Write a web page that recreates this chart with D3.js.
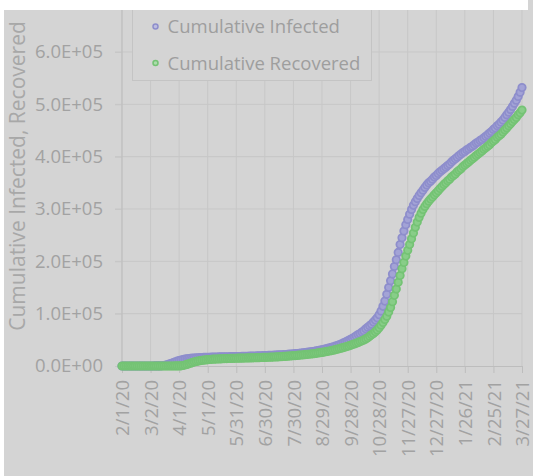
<!DOCTYPE html>
<html>
<head>
<meta charset="utf-8">
<script src="https://cdn.jsdelivr.net/npm/d3@7"></script>
<style>
  html, body { margin: 0; padding: 0; background: #ffffff; }
  svg { display: block; font-family: "Open Sans", sans-serif; }
</style>
</head>
<body>
<svg id="chart" width="533" height="476"></svg>
<script>
// Series names (legend order)
const seriesNames = ["Cumulative Infected", "Cumulative Recovered"];

// Observations every 2 days starting 2/1/20, in thousands of people
const startDate = "2/1/20";
const stepDays = 2;

const infectedK = [
  0, 0, 0, 0, 0, 0, 0, 0, 0, 0,
  0, 0, 0, 0, 0, 0.01, 0.03, 0.05, 0.1, 0.15,
  0.2, 0.5, 1.0, 1.8, 2.8, 4.0, 5.3, 6.7, 8.0, 9.3,
  10.5, 11.5, 12.3, 13.0, 13.6, 14.1, 14.5, 14.9, 15.2, 15.5,
  15.7, 15.9, 16.1, 16.3, 16.4, 16.6, 16.7, 16.8, 17.0, 17.1,
  17.2, 17.3, 17.4, 17.5, 17.6, 17.6, 17.7, 17.8, 17.9, 17.9,
  18.0, 18.1, 18.2, 18.3, 18.4, 18.5, 18.6, 18.7, 18.8, 19.0,
  19.1, 19.2, 19.4, 19.5, 19.7, 19.8, 20.0, 20.2, 20.3, 20.5,
  20.7, 20.9, 21.1, 21.3, 21.5, 21.8, 22.0, 22.3, 22.6, 22.9,
  23.2, 23.5, 23.9, 24.2, 24.6, 25.0, 25.5, 25.9, 26.4, 27.0,
  27.5, 28.1, 28.8, 29.5, 30.2, 31.0, 31.8, 32.7, 33.6, 34.5,
  35.5, 36.7, 37.9, 39.2, 40.6, 42.0, 43.6, 45.3, 47.1, 49.0,
  51, 53, 55, 57.5, 60, 62, 65, 67.5, 71, 74,
  77, 80, 84, 88, 92, 98, 105, 114, 124, 137,
  150, 163, 176, 190, 203, 217, 232, 245, 258, 270,
  280, 290, 299, 307, 314, 320, 326, 331, 336, 341,
  346, 350, 353, 357, 361, 364, 368, 371, 374, 377,
  380, 383, 386, 390, 393, 396, 399, 402, 405, 408,
  410, 413, 415, 418, 420, 423, 426, 428, 431, 433,
  436, 439, 442, 445, 448, 452, 455, 459, 462, 466,
  470, 475, 480, 485, 490, 496, 502, 508, 515, 523,
  532
];

const recoveredK = [
  0, 0, 0, 0, 0, 0, 0, 0, 0, 0,
  0, 0, 0, 0, 0, 0, 0, 0, 0, 0,
  0, 0, 0, 0, 0, 0, 0, 0, 0.05, 0.08,
  0.1, 0.4, 1.0, 1.9, 3.0, 4.2, 5.4, 6.6, 7.7, 8.7,
  9.5, 10.2, 10.8, 11.3, 11.7, 12.1, 12.4, 12.7, 13.0, 13.2,
  13.4, 13.6, 13.8, 13.9, 14.1, 14.2, 14.3, 14.5, 14.6, 14.7,
  14.8, 14.9, 15.0, 15.1, 15.2, 15.3, 15.4, 15.5, 15.6, 15.7,
  15.8, 15.9, 16.0, 16.2, 16.3, 16.4, 16.6, 16.7, 16.9, 17.0,
  17.2, 17.4, 17.6, 17.8, 18.0, 18.3, 18.5, 18.8, 19.1, 19.4,
  19.7, 20.0, 20.3, 20.6, 21.0, 21.3, 21.7, 22.1, 22.5, 22.9,
  23.3, 23.8, 24.3, 24.9, 25.4, 26.0, 26.6, 27.3, 28.0, 28.7,
  29.5, 30.3, 31.2, 32.1, 33.0, 34.0, 35.0, 36.1, 37.2, 38.3,
  39.5, 40.9, 42.2, 43.6, 45.0, 46.6, 48.2, 49.9, 51.7, 54.0,
  57, 59.5, 62, 65.5, 69, 73, 78, 83, 89, 95,
  103, 112, 123, 135, 147, 160, 173, 186, 198, 210,
  221, 232, 243, 254, 265, 275, 284, 292, 299, 305,
  310, 315, 319, 323, 327, 331, 335, 339, 343, 347,
  350, 354, 357, 361, 364, 367, 371, 374, 377, 381,
  384, 387, 390, 393, 396, 399, 402, 405, 408, 411,
  414, 417, 420, 423, 427, 430, 433, 437, 440, 443,
  447, 451, 455, 459, 463, 467, 471, 475, 480, 484,
  489
];

// Axis ticks
const xTickLabels = [
  "2/1/20", "3/2/20", "4/1/20", "5/1/20", "5/31/20", "6/30/20", "7/30/20",
  "8/29/20", "9/28/20", "10/28/20", "11/27/20", "12/27/20", "1/26/21",
  "2/25/21", "3/27/21"
];
const yTickValues = [0, 100000, 200000, 300000, 400000, 500000, 600000];
const yTitle = "Cumulative Infected, Recovered";

// ---- drawing ----
const W = 533, H = 476;
const svg = d3.select("#chart");
const parse = d3.utcParse("%m/%d/%y");
const dayMs = 24 * 3600 * 1000;
const t0 = parse(startDate);

const toPoints = arr => arr.map((v, i) => ({
  date: new Date(t0.getTime() + i * stepDays * dayMs),
  value: v * 1000
}));
const series = [
  { name: seriesNames[0], points: toPoints(infectedK), stroke: "#8e8ecc", fill: "#a3a3d6" },
  { name: seriesNames[1], points: toPoints(recoveredK), stroke: "#74c374", fill: "#88cd88" }
];

const xTicks = xTickLabels.map(parse);
const plot = { left: 122, right: 522, top: 10, bottom: 366 };

const x = d3.scaleUtc()
  .domain([xTicks[0], xTicks[xTicks.length - 1]])
  .range([plot.left, plot.right]);
const y = d3.scaleLinear()
  .domain([0, 600000])
  .range([plot.bottom, 52]);

const sci = v => {
  const [m, e] = v.toExponential(1).split("e");
  const sign = e[0] === "-" ? "-" : "+";
  const n = Math.abs(+e);
  return m + "E" + sign + (n < 10 ? "0" + n : n);
};

// panel background
svg.append("rect").attr("x", 4).attr("y", 0).attr("width", W - 4).attr("height", H)
  .attr("fill", "#d4d4d4");

const gridColor = "#c7c7c7";
const axisColor = "#bdbdbd";
const textColor = "#a2a2a2";

// vertical gridlines
svg.append("g").selectAll("line").data(xTicks).join("line")
  .attr("x1", d => x(d)).attr("x2", d => x(d))
  .attr("y1", plot.top).attr("y2", plot.bottom)
  .attr("stroke", gridColor).attr("stroke-width", 1);

// horizontal gridlines (with left tick stubs)
svg.append("g").selectAll("line").data(yTickValues.slice(1)).join("line")
  .attr("x1", plot.left - 7).attr("x2", plot.right)
  .attr("y1", d => y(d)).attr("y2", d => y(d))
  .attr("stroke", gridColor).attr("stroke-width", 1);

// y axis
const yAxis = svg.append("g")
  .attr("transform", `translate(${plot.left},0)`)
  .call(d3.axisLeft(y).tickValues(yTickValues).tickFormat(sci).tickSize(7).tickPadding(12));
yAxis.select(".domain").remove();
yAxis.append("line").attr("x1", 0).attr("x2", 0).attr("y1", plot.top).attr("y2", plot.bottom)
  .attr("stroke", axisColor);
yAxis.selectAll(".tick line").attr("stroke", gridColor);
yAxis.selectAll(".tick text")
  .attr("fill", textColor).attr("font-size", 18.5).attr("font-family", "Open Sans, sans-serif");

// x axis
const xAxis = svg.append("g")
  .attr("transform", `translate(0,${plot.bottom})`)
  .call(d3.axisBottom(x).tickValues(xTicks).tickFormat((d, i) => xTickLabels[i]).tickSizeOuter(0).tickSize(7));
xAxis.select(".domain").attr("stroke", axisColor);
xAxis.selectAll(".tick line").attr("stroke", axisColor);
xAxis.selectAll(".tick text")
  .attr("fill", textColor).attr("font-size", 18.5).attr("font-family", "Open Sans, sans-serif")
  .attr("text-anchor", "end")
  .attr("transform", "rotate(-90)")
  .attr("x", -14).attr("y", 0).attr("dy", "0.36em");

// y axis title
svg.append("text")
  .attr("transform", `translate(17,176) rotate(-90)`)
  .attr("text-anchor", "middle").attr("dominant-baseline", "central")
  .attr("fill", "#a8a8a8").attr("font-size", 21)
  .text(yTitle);

// markers
series.forEach(s => {
  svg.append("g").selectAll("circle").data(s.points).join("circle")
    .attr("cx", d => x(d.date)).attr("cy", d => y(d.value))
    .attr("r", 3.7)
    .attr("fill", s.fill).attr("stroke", s.stroke).attr("stroke-width", 1.8);
});

// legend
const legend = svg.append("g");
legend.append("rect").attr("x", 132.5).attr("y", -5).attr("width", 239).attr("height", 85.5)
  .attr("fill", "#d4d4d4").attr("stroke", "#c4c4c4");
series.forEach((s, i) => {
  const ly = 26.5 + i * 36.5;
  legend.append("circle").attr("cx", 155.5).attr("cy", ly).attr("r", 2.5)
    .attr("fill", "#c4c4dc").attr("stroke", s.stroke).attr("stroke-width", 1.5)
    .attr("fill", i === 0 ? "#bdbde0" : "#acdcac");
  legend.append("text").attr("x", 167.5).attr("y", ly).attr("dy", "0.36em")
    .attr("fill", "#9e9e9e").attr("font-size", 18.5)
    .text(s.name);
});

// top and left white margins
svg.append("rect").attr("x", 0).attr("y", 0).attr("width", 528).attr("height", 10).attr("fill", "#ffffff");
svg.append("rect").attr("x", 0).attr("y", 0).attr("width", 4).attr("height", H).attr("fill", "#ffffff");
</script>
</body>
</html>
